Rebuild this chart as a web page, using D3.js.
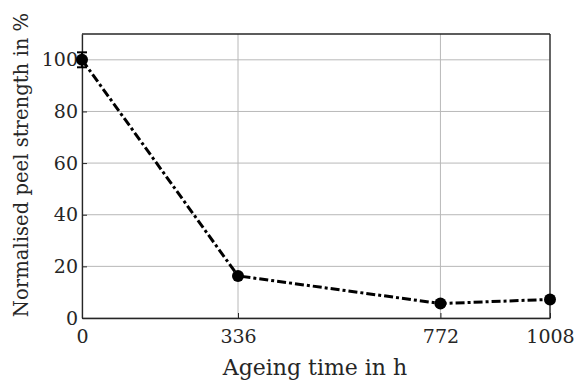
<!DOCTYPE html>
<html>
<head>
<meta charset="utf-8">
<script src="https://cdn.jsdelivr.net/npm/d3@7"></script>
<style>
  body { margin: 0; background: #fff; }
  svg text { font-family: "DejaVu Serif", serif; fill: #262626; }
  .grid line { stroke: #b8b8b8; stroke-width: 1; }
</style>
</head>
<body>
<div id="chart"></div>
<script>
// data
const hours = [0, 336, 772, 1008];
const strength = [100, 16.3, 5.6, 7.2];
const errors = [2.9, 0, 0, 0];
const xTicks = [0, 336, 772, 1008];
const yTicks = [0, 20, 40, 60, 80, 100];

const width = 574, height = 383,
      margin = { top: 34, right: 24, bottom: 65, left: 82 };

const svg = d3.select("#chart").append("svg")
  .attr("width", width)
  .attr("height", height);

const xScale = d3.scaleLinear()
  .domain([0, 1008])
  .range([margin.left, width - margin.right]);

const yScale = d3.scaleLinear()
  .domain([0, 110])
  .range([height - margin.bottom, margin.top]);

// grid
svg.append("g").attr("class", "grid")
  .selectAll("line.h").data(yTicks).join("line")
  .attr("x1", margin.left).attr("x2", width - margin.right)
  .attr("y1", d => yScale(d)).attr("y2", d => yScale(d));
svg.append("g").attr("class", "grid")
  .selectAll("line.v").data(xTicks).join("line")
  .attr("y1", margin.top).attr("y2", height - margin.bottom)
  .attr("x1", d => xScale(d)).attr("x2", d => xScale(d));

// axes (ticks point inward, box round the plot)
const xAxis = d3.axisBottom(xScale).tickValues(xTicks).tickFormat(d3.format("d"))
  .tickSizeInner(-5).tickSizeOuter(0).tickPadding(12);
const yAxis = d3.axisLeft(yScale).tickValues(yTicks).tickFormat(d3.format("d"))
  .tickSizeInner(-5).tickSizeOuter(0).tickPadding(4);

const gx = svg.append("g")
  .attr("transform", `translate(0,${height - margin.bottom})`)
  .call(xAxis);
const gy = svg.append("g")
  .attr("transform", `translate(${margin.left},0)`)
  .call(yAxis);

[gx, gy].forEach(g => {
  g.attr("font-family", null);
  g.select(".domain").attr("stroke", "#262626").attr("stroke-width", 1.3);
  g.selectAll(".tick line").attr("stroke", "#262626");
  g.selectAll(".tick text").attr("font-size", 19).attr("fill", "#262626");
});

// top and right frame
svg.append("line")
  .attr("x1", margin.left).attr("x2", width - margin.right)
  .attr("y1", margin.top).attr("y2", margin.top)
  .attr("stroke", "#262626").attr("stroke-width", 1.3);
svg.append("line")
  .attr("x1", width - margin.right).attr("x2", width - margin.right)
  .attr("y1", margin.top).attr("y2", height - margin.bottom)
  .attr("stroke", "#262626").attr("stroke-width", 1.3);

const data = hours.map((h, i) => ({ h, v: strength[i], e: errors[i] }));

// line
const line = d3.line().x(d => xScale(d.h)).y(d => yScale(d.v));
svg.append("path")
  .datum(data)
  .attr("d", line)
  .attr("fill", "none")
  .attr("stroke", "#000")
  .attr("stroke-width", 3)
  .attr("stroke-dasharray", "9,3,3,3");

// error bars
const eb = svg.append("g").selectAll("g").data(data.filter(d => d.e > 0)).join("g")
  .attr("stroke", "#000").attr("stroke-width", 2);
eb.append("line")
  .attr("x1", d => xScale(d.h)).attr("x2", d => xScale(d.h))
  .attr("y1", d => yScale(d.v - d.e)).attr("y2", d => yScale(d.v + d.e));
eb.append("line")
  .attr("x1", d => xScale(d.h) - 5).attr("x2", d => xScale(d.h) + 5)
  .attr("y1", d => yScale(d.v - d.e)).attr("y2", d => yScale(d.v - d.e));
eb.append("line")
  .attr("x1", d => xScale(d.h) - 5).attr("x2", d => xScale(d.h) + 5)
  .attr("y1", d => yScale(d.v + d.e)).attr("y2", d => yScale(d.v + d.e));

// markers
svg.append("g").selectAll("circle").data(data).join("circle")
  .attr("cx", d => xScale(d.h))
  .attr("cy", d => yScale(d.v))
  .attr("r", 6)
  .attr("fill", "#000");

// axis labels
svg.append("text")
  .attr("x", 315)
  .attr("y", 375)
  .attr("text-anchor", "middle")
  .attr("font-size", 22)
  .text("Ageing time in h");

svg.append("text")
  .attr("transform", `translate(28,165) rotate(-90)`)
  .attr("text-anchor", "middle")
  .attr("font-size", 19.6)
  .text("Normalised peel strength in %");
</script>
</body>
</html>
